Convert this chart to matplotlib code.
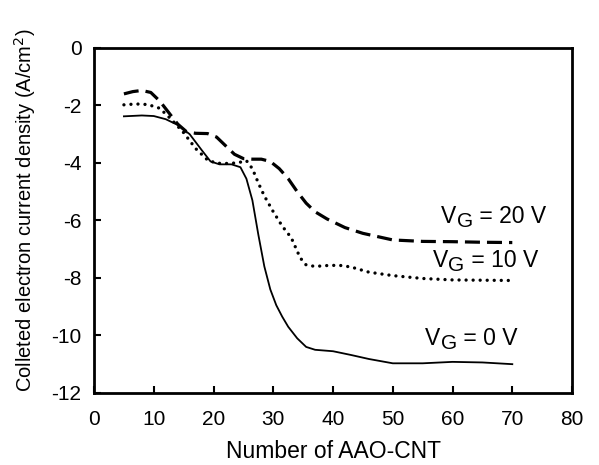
import matplotlib
matplotlib.use("Agg")
import matplotlib.pyplot as plt
from matplotlib.transforms import offset_copy

plt.rcParams['font.family'] = ['Liberation Sans', 'DejaVu Sans']
plt.rcParams['axes.unicode_minus'] = False

x_v0 = [5, 8, 10, 12, 14, 16, 18, 19.5, 21, 23, 24.5, 25.5, 26.5, 27.5, 28.5, 29.5,
        30.5, 31.5, 32.5, 34, 35.5, 37, 40, 43, 46, 50, 55, 60, 65, 70]
y_v0 = [-2.38, -2.35, -2.37, -2.48, -2.68, -3.0, -3.55, -3.95, -4.05, -4.05, -4.15,
        -4.55, -5.3, -6.5, -7.6, -8.4, -8.95, -9.35, -9.7, -10.1, -10.4, -10.5, -10.55,
        -10.68, -10.82, -10.97, -10.97, -10.92, -10.94, -11.0]

x_v10 = [5, 7, 9, 11, 13, 15, 17, 19, 20.5, 22, 24, 25.5, 26.5, 27.5, 28.5, 30, 31.5,
         33, 34.5, 35.5, 37, 39, 41, 43, 46, 50, 55, 60, 65, 70]
y_v10 = [-1.98, -1.95, -1.97, -2.1, -2.5, -2.95, -3.5, -3.9, -4.01, -4.02, -4.0, -3.92,
         -4.2, -4.7, -5.15, -5.7, -6.2, -6.6, -7.3, -7.55, -7.6, -7.57, -7.56, -7.62,
         -7.8, -7.92, -8.02, -8.07, -8.08, -8.09]

x_v20 = [5, 6.5, 8, 9.5, 11, 12.5, 14, 15.5, 17, 19, 20.5, 22, 23.5, 25, 26.5, 28, 29.5,
         31, 32.5, 34, 35.5, 37, 39, 42, 45, 50, 55, 60, 65, 70]
y_v20 = [-1.6, -1.52, -1.48, -1.55, -1.85, -2.25, -2.65, -2.92, -2.97, -2.98, -3.1, -3.4,
         -3.7, -3.85, -3.87, -3.87, -3.95, -4.2, -4.55, -5.0, -5.4, -5.7, -5.95, -6.25,
         -6.45, -6.68, -6.73, -6.74, -6.76, -6.77]

x_ticks = [0, 10, 20, 30, 40, 50, 60, 70, 80]
y_ticks = [0, -2, -4, -6, -8, -10, -12]

label_text = ['20 V', '10 V', '0 V']
label_x = [58.1, 56.7, 55.4]
label_y = [-6.10, -7.61, -10.33]

fig = plt.figure(figsize=(5.99, 4.65), dpi=100)
ax = fig.add_axes([0.157, 0.155, 0.798, 0.742])

ax.plot(x_v0, y_v0, color='black', lw=1.3, solid_joinstyle='round')
ax.plot(x_v10, y_v10, color='black', lw=2.4, linestyle=(0, (0.01, 2.1)),
        dash_capstyle='round')
ax.plot(x_v20, y_v20, color='black', lw=2.3, linestyle=(0, (4.7, 2.2)))

ax.set_xlim(0, 80)
ax.set_ylim(-12, 0)
ax.set_xticks(x_ticks)
ax.set_yticks(y_ticks)
ax.tick_params(direction='in', length=5, width=1.5, labelsize=15)
ax.tick_params(axis='x', pad=12)
ax.tick_params(axis='y', pad=9)
for s in ax.spines.values():
    s.set_linewidth(2)

ax.set_xlabel('Number of AAO-CNT', fontsize=16.5, labelpad=8)
ax.set_ylabel('Colleted electron current density (A/cm$^{2}$)', fontsize=14.5)
ax.yaxis.set_label_coords(-0.117, 0.53)

renderer = fig.canvas.get_renderer()
for txt, lx, ly in zip(label_text, label_x, label_y):
    t1 = ax.text(lx, ly, 'V', fontsize=16.5, ha='left', va='baseline')
    bb1 = t1.get_window_extent(renderer)
    w1 = bb1.width * 72 / fig.dpi
    tr2 = offset_copy(ax.transData, fig=fig, x=w1 + 0.3, y=-3.0, units='points')
    t2 = ax.text(lx, ly, 'G', fontsize=15, ha='left', va='baseline', transform=tr2)
    bb2 = t2.get_window_extent(renderer)
    w2 = bb2.width * 72 / fig.dpi
    tr3 = offset_copy(ax.transData, fig=fig, x=w1 + w2 + 0.3, y=0, units='points')
    ax.text(lx, ly, ' = ' + txt, fontsize=16.5, ha='left', va='baseline', transform=tr3)

fig.savefig('out.png', dpi=100)
